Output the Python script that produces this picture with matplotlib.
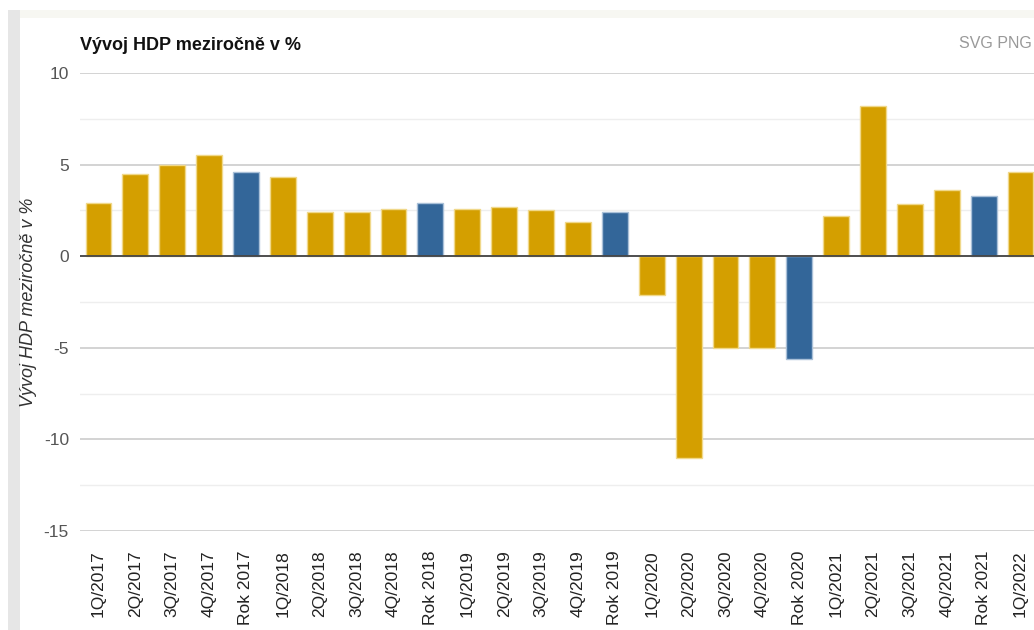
import matplotlib
matplotlib.use("Agg")
import matplotlib.pyplot as plt
from matplotlib.patches import Rectangle

plt.rcParams["font.family"] = ["Liberation Sans", "DejaVu Sans"]
plt.rcParams["axes.unicode_minus"] = False

CATEGORIES = ["1Q/2017", "2Q/2017", "3Q/2017", "4Q/2017", "Rok 2017",
              "1Q/2018", "2Q/2018", "3Q/2018", "4Q/2018", "Rok 2018",
              "1Q/2019", "2Q/2019", "3Q/2019", "4Q/2019", "Rok 2019",
              "1Q/2020", "2Q/2020", "3Q/2020", "4Q/2020", "Rok 2020",
              "1Q/2021", "2Q/2021", "3Q/2021", "4Q/2021", "Rok 2021",
              "1Q/2022"]
VALUES = [2.9, 4.5, 5.0, 5.5, 4.6,
          4.3, 2.4, 2.4, 2.6, 2.9,
          2.6, 2.7, 2.5, 1.85, 2.4,
          -2.1, -11.0, -5.0, -5.0, -5.6,
          2.2, 8.2, 2.85, 3.6, 3.3,
          4.6]
Y_TICKS = [-15, -10, -5, 0, 5, 10]

GOLD = "#d49f00"
BLUE = "#336699"

W, H = 1034, 630
fig = plt.figure(figsize=(W / 100, H / 100), dpi=100)

# panel frame: faint top strip and left shadow
fig.patches.append(Rectangle((8 / W, 0), 12 / W, 1 - 10 / H, transform=fig.transFigure,
                             facecolor="#e6e6e6", edgecolor="none", zorder=-1))
fig.patches.append(Rectangle((20 / W, 1 - 18 / H), 1, 8 / H, transform=fig.transFigure,
                             facecolor="#f7f7f2", edgecolor="none", zorder=-1))

ax = fig.add_axes([80 / W, 99 / H, 959 / W, 458 / H])
x = list(range(len(CATEGORIES)))
colors = [BLUE if c.startswith("Rok") else GOLD for c in CATEGORIES]
edges = ["#a9c0d8" if c.startswith("Rok") else "#f0d88a" for c in CATEGORIES]
ax.bar(x, VALUES, width=0.7, color=colors, edgecolor=edges, linewidth=1, zorder=3)

ax.set_xlim(-0.5, len(CATEGORIES) - 0.5)
ax.set_ylim(-15, 10)
ax.set_yticks(Y_TICKS)
ax.set_yticks([-12.5, -7.5, -2.5, 2.5, 7.5], minor=True)
ax.grid(axis="y", which="major", color="#cccccc", linewidth=1.2, zorder=0)
ax.grid(axis="y", which="minor", color="#eeeeee", linewidth=1, zorder=0)
ax.axhline(0, color="#444444", linewidth=1.3, zorder=4)
for s in ax.spines.values():
    s.set_visible(False)

ax.set_xticks(x)
ax.set_xticklabels(CATEGORIES, rotation=90, fontsize=12.5, color="#222222")
ax.tick_params(axis="x", length=0, pad=14)
ax.tick_params(axis="y", which="both", length=0, labelsize=12.5, labelcolor="#555555", pad=8)

ax.set_ylabel("Vývoj HDP meziročně v %", fontsize=13, style="italic", color="#333333")
ax.yaxis.set_label_coords(-43 / 959, 0.5)

fig.text(80 / W, 1 - 46 / H, "Vývoj HDP meziročně v %", fontsize=13,
         fontweight="bold", color="#111111", va="center")
fig.text(1032 / W, 1 - 43 / H, "SVG PNG", fontsize=11.5, color="#999999",
         ha="right", va="center")

fig.savefig("out.png", dpi=100, facecolor="white")
